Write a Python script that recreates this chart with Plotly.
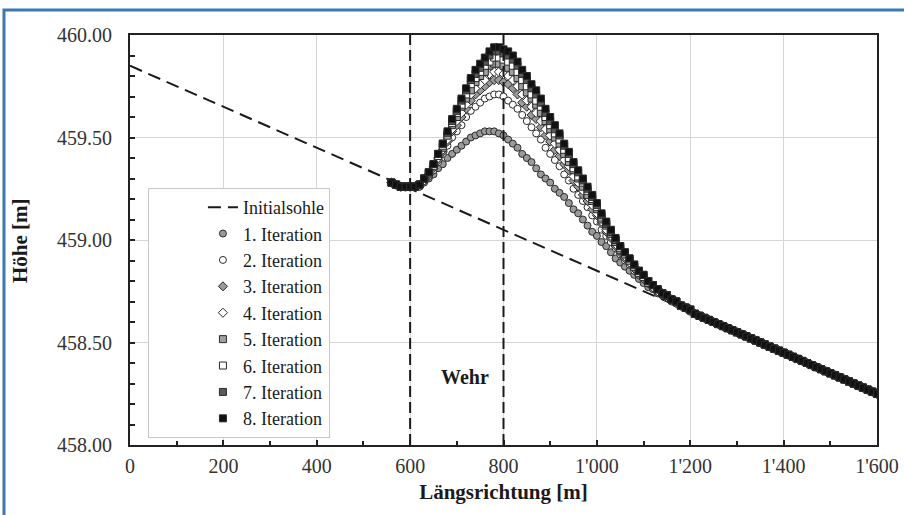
import plotly.graph_objects as go

# ---------------- data ----------------
x_head = [560, 570, 580, 590, 600, 610, 620, 630, 640, 650,
          660, 670, 680, 690, 700, 710, 720, 730, 740, 750,
          760, 770, 780, 790, 800, 810, 820, 830, 840, 850,
          860, 870, 880, 890, 900, 910, 920, 930, 940, 950,
          960, 970, 980, 990, 1000, 1010, 1020, 1030, 1040, 1050,
          1060, 1070, 1080, 1090, 1100, 1110, 1120, 1130, 1140, 1150,
          1160, 1170, 1180, 1190, 1200, 1210, 1220, 1230, 1240]
x_tail = [1250, 1260, 1270, 1280, 1290, 1300, 1310, 1320, 1330, 1340,
          1350, 1360, 1370, 1380, 1390, 1400, 1410, 1420, 1430, 1440,
          1450, 1460, 1470, 1480, 1490, 1500, 1510, 1520, 1530, 1540,
          1550, 1560, 1570, 1580, 1590, 1600]
y_tail = [458.60, 458.59, 458.58, 458.57, 458.56, 458.55, 458.54, 458.53, 458.52, 458.51,
          458.50, 458.49, 458.48, 458.47, 458.46, 458.45, 458.44, 458.43, 458.42, 458.41,
          458.40, 458.39, 458.38, 458.37, 458.36, 458.35, 458.34, 458.33, 458.32, 458.31,
          458.30, 458.29, 458.28, 458.27, 458.26, 458.25]

iter1 = [459.28, 459.27, 459.26, 459.26, 459.26, 459.26, 459.26, 459.28, 459.30, 459.32,
         459.35, 459.37, 459.40, 459.42, 459.44, 459.46, 459.48, 459.50, 459.51, 459.52,
         459.53, 459.53, 459.53, 459.52, 459.51, 459.49, 459.47, 459.45, 459.42, 459.40,
         459.38, 459.35, 459.32, 459.30, 459.28, 459.25, 459.23, 459.21, 459.18, 459.15,
         459.13, 459.10, 459.07, 459.04, 459.02, 458.99, 458.97, 458.94, 458.91, 458.89,
         458.87, 458.85, 458.83, 458.81, 458.79, 458.77, 458.76, 458.74, 458.73, 458.72,
         458.70, 458.69, 458.68, 458.67, 458.65, 458.64, 458.63, 458.62, 458.61]
iter2 = [459.28, 459.27, 459.26, 459.26, 459.26, 459.26, 459.26, 459.29, 459.31, 459.34,
         459.38, 459.42, 459.46, 459.50, 459.53, 459.56, 459.60, 459.63, 459.65, 459.67,
         459.69, 459.70, 459.71, 459.71, 459.70, 459.68, 459.66, 459.64, 459.61, 459.58,
         459.55, 459.52, 459.49, 459.45, 459.42, 459.39, 459.36, 459.32, 459.29, 459.25,
         459.22, 459.19, 459.16, 459.12, 459.09, 459.05, 459.02, 458.99, 458.96, 458.93,
         458.90, 458.88, 458.85, 458.83, 458.81, 458.79, 458.77, 458.75, 458.74, 458.72,
         458.71, 458.69, 458.68, 458.67, 458.66, 458.64, 458.63, 458.62, 458.61]
iter3 = [459.28, 459.27, 459.26, 459.26, 459.26, 459.26, 459.27, 459.29, 459.32, 459.35,
         459.39, 459.43, 459.48, 459.53, 459.56, 459.60, 459.64, 459.68, 459.71, 459.73,
         459.75, 459.77, 459.78, 459.78, 459.77, 459.76, 459.74, 459.71, 459.67, 459.65,
         459.61, 459.59, 459.55, 459.51, 459.48, 459.44, 459.41, 459.37, 459.34, 459.29,
         459.26, 459.22, 459.19, 459.15, 459.12, 459.08, 459.04, 459.01, 458.97, 458.94,
         458.91, 458.89, 458.86, 458.83, 458.81, 458.79, 458.77, 458.75, 458.74, 458.72,
         458.71, 458.70, 458.68, 458.67, 458.66, 458.64, 458.63, 458.62, 458.61]
iter4 = [459.28, 459.27, 459.26, 459.26, 459.26, 459.26, 459.27, 459.29, 459.32, 459.36,
         459.40, 459.44, 459.49, 459.54, 459.58, 459.62, 459.66, 459.71, 459.74, 459.76,
         459.78, 459.81, 459.82, 459.82, 459.81, 459.80, 459.78, 459.75, 459.71, 459.68,
         459.65, 459.62, 459.58, 459.54, 459.51, 459.47, 459.44, 459.39, 459.36, 459.31,
         459.28, 459.24, 459.21, 459.17, 459.13, 459.09, 459.05, 459.02, 458.98, 458.95,
         458.92, 458.89, 458.87, 458.84, 458.82, 458.79, 458.77, 458.75, 458.74, 458.73,
         458.71, 458.70, 458.68, 458.67, 458.66, 458.64, 458.63, 458.62, 458.61]
iter5 = [459.28, 459.27, 459.26, 459.26, 459.26, 459.26, 459.27, 459.30, 459.32, 459.36,
         459.41, 459.45, 459.51, 459.56, 459.60, 459.65, 459.69, 459.73, 459.77, 459.80,
         459.82, 459.85, 459.86, 459.86, 459.85, 459.84, 459.82, 459.79, 459.75, 459.72,
         459.69, 459.66, 459.62, 459.58, 459.54, 459.50, 459.47, 459.42, 459.38, 459.34,
         459.30, 459.26, 459.22, 459.19, 459.15, 459.10, 459.07, 459.03, 458.99, 458.95,
         458.93, 458.90, 458.87, 458.84, 458.82, 458.79, 458.78, 458.76, 458.74, 458.73,
         458.71, 458.70, 458.68, 458.67, 458.66, 458.64, 458.63, 458.62, 458.61]
iter6 = [459.28, 459.27, 459.26, 459.26, 459.26, 459.26, 459.27, 459.30, 459.33, 459.36,
         459.41, 459.46, 459.51, 459.57, 459.62, 459.66, 459.71, 459.76, 459.79, 459.82,
         459.85, 459.87, 459.89, 459.89, 459.88, 459.87, 459.85, 459.82, 459.78, 459.75,
         459.71, 459.68, 459.65, 459.60, 459.56, 459.52, 459.49, 459.44, 459.40, 459.35,
         459.31, 459.28, 459.24, 459.20, 459.16, 459.11, 459.08, 459.04, 459.00, 458.96,
         458.93, 458.90, 458.87, 458.84, 458.82, 458.80, 458.78, 458.76, 458.74, 458.73,
         458.71, 458.70, 458.68, 458.67, 458.66, 458.64, 458.63, 458.62, 458.61]
iter7 = [459.28, 459.27, 459.26, 459.26, 459.26, 459.26, 459.27, 459.30, 459.33, 459.37,
         459.42, 459.47, 459.52, 459.58, 459.63, 459.68, 459.73, 459.78, 459.81, 459.84,
         459.87, 459.90, 459.92, 459.92, 459.91, 459.90, 459.88, 459.85, 459.81, 459.78,
         459.74, 459.71, 459.67, 459.62, 459.58, 459.54, 459.51, 459.46, 459.42, 459.37,
         459.33, 459.29, 459.25, 459.21, 459.17, 459.12, 459.08, 459.04, 459.00, 458.97,
         458.94, 458.91, 458.88, 458.85, 458.83, 458.80, 458.78, 458.76, 458.74, 458.73,
         458.71, 458.70, 458.68, 458.67, 458.66, 458.64, 458.63, 458.62, 458.61]
iter8 = [459.28, 459.27, 459.26, 459.26, 459.26, 459.26, 459.27, 459.30, 459.33, 459.37,
         459.42, 459.47, 459.53, 459.59, 459.64, 459.69, 459.74, 459.79, 459.83, 459.86,
         459.89, 459.92, 459.94, 459.94, 459.93, 459.92, 459.90, 459.87, 459.83, 459.80,
         459.76, 459.73, 459.69, 459.64, 459.60, 459.56, 459.52, 459.47, 459.43, 459.38,
         459.34, 459.30, 459.26, 459.22, 459.18, 459.13, 459.09, 459.05, 459.01, 458.97,
         458.94, 458.91, 458.88, 458.85, 458.83, 458.80, 458.78, 458.76, 458.74, 458.73,
         458.71, 458.70, 458.68, 458.67, 458.66, 458.64, 458.63, 458.62, 458.61]

bed_x = [0, 1600]
bed_y = [459.85, 458.25]

weir_x = [600, 800]

x_tickvals = [0, 200, 400, 600, 800, 1000, 1200, 1400, 1600]
x_ticktext = ["0", "200", "400", "600", "800", "1'000", "1'200", "1'400", "1'600"]

series_names = ["1. Iteration", "2. Iteration", "3. Iteration", "4. Iteration",
                "5. Iteration", "6. Iteration", "7. Iteration", "8. Iteration"]
series_vals = [iter1, iter2, iter3, iter4, iter5, iter6, iter7, iter8]

# ---------------- styles ----------------
FONT = "Liberation Serif"
styles = [
    ("circle", "#9a9a9a"),
    ("circle", "#ffffff"),
    ("diamond", "#9a9a9a"),
    ("diamond", "#ffffff"),
    ("square", "#a0a0a0"),
    ("square", "#ffffff"),
    ("square", "#5a5a5a"),
    ("square", "#111111"),
]

fig = go.Figure()

fig.add_trace(go.Scatter(
    x=bed_x, y=bed_y, mode="lines", name="Initialsohle",
    line=dict(color="#1a1a1a", width=2, dash="13px,7px"),
))

for name, vals, (sym, fill) in zip(series_names, series_vals, styles):
    fig.add_trace(go.Scatter(
        x=x_head + x_tail, y=vals + y_tail, mode="markers", name=name,
        marker=dict(symbol=sym, size=7, color=fill,
                    line=dict(color="#2a2a2a", width=1)),
    ))

for wx in weir_x:
    fig.add_shape(type="line", xref="x", yref="paper", x0=wx, x1=wx, y0=0, y1=1,
                  line=dict(color="#1a1a1a", width=2, dash="11px,5px"))

# blue outer frame (top and left edges visible)
fig.add_shape(type="rect", xref="paper", yref="paper",
              x0=-0.1687, x1=1.12, y0=-0.35, y1=1.061,
              line=dict(color="#3b78b4", width=3), fillcolor="rgba(0,0,0,0)")

fig.add_annotation(x=717, y=458.33, xref="x", yref="y", text="<b>Wehr</b>",
                   showarrow=False, font=dict(family=FONT, size=20, color="#1a1a1a"))

# y-axis title placed as annotation (further left than standoff allows)
fig.add_annotation(x=-0.1473, y=0.5, xref="paper", yref="paper",
                   text="<b>Höhe [m]</b>", textangle=-90, showarrow=False,
                   xanchor="center", yanchor="middle",
                   font=dict(family=FONT, size=21, color="#1a1a1a"))

fig.update_layout(
    width=904, height=515,
    margin=dict(l=130, r=27, t=35, b=70),
    paper_bgcolor="white", plot_bgcolor="white",
    font=dict(family=FONT, size=19, color="#333333"),
    showlegend=True,
    legend=dict(
        x=0.024, y=0.627, xanchor="left", yanchor="top",
        bgcolor="white", bordercolor="#c8c8c8", borderwidth=1,
        font=dict(family=FONT, size=18, color="#1a1a1a"),
        indentation=54, tracegroupgap=0, itemwidth=30,
    ),
    xaxis=dict(
        range=[0, 1600], tickvals=x_tickvals, ticktext=x_ticktext,
        automargin=False,
        showgrid=True, gridcolor="#d6d6d6", gridwidth=1,
        ticks="inside", ticklen=5, tickcolor="#222", tickwidth=1.5,
        minor=dict(dtick=100, tick0=0, ticks="inside", ticklen=4, tickcolor="#222", showgrid=False),
        showline=True, linecolor="#222", linewidth=2, mirror=True,
        zeroline=False, ticklabelstandoff=2,
        tickfont=dict(family=FONT, size=20, color="#333333"),
        title=dict(text="<b>Längsrichtung [m]</b>", standoff=8,
                   font=dict(family=FONT, size=21, color="#1a1a1a")),
    ),
    yaxis=dict(
        range=[458, 460], dtick=0.5, tick0=458, tickformat=".2f",
        automargin=False,
        showgrid=True, gridcolor="#d6d6d6", gridwidth=1,
        ticks="inside", ticklen=5, tickcolor="#222", tickwidth=1.5,
        minor=dict(dtick=0.1, tick0=458, ticks="inside", ticklen=5, tickcolor="#222", showgrid=False),
        showline=True, linecolor="#222", linewidth=2, mirror=True,
        zeroline=False, ticklabelstandoff=12,
        tickfont=dict(family=FONT, size=20, color="#333333"),
    ),
)

fig.write_html("out.html", config={"displayModeBar": False},
               post_script="document.body.style.margin='0px';")
